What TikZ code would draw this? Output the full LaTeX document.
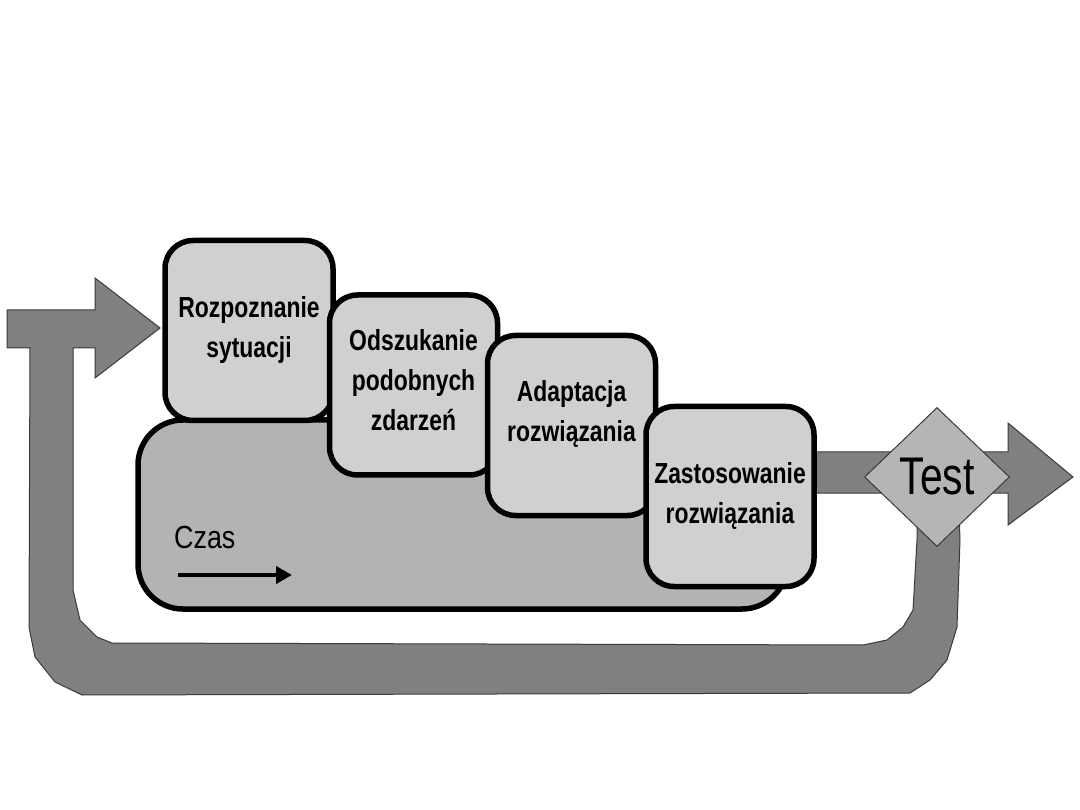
\documentclass[tikz,border=0pt]{standalone}
\usepackage{fontspec}
\usetikzlibrary{shapes.geometric,arrows.meta}
\newfontfamily\boxfont[FakeStretch=0.79]{Liberation Sans}
\newfontfamily\czasfont[FakeStretch=0.84]{Liberation Sans}
\newfontfamily\testfont[FakeStretch=0.77]{Liberation Sans}
\definecolor{arrowgray}{HTML}{808080}
\definecolor{arrowedge}{HTML}{3A3A3A}
\definecolor{bggray}{HTML}{B3B3B3}
\definecolor{boxgray}{HTML}{D0D0D0}
\definecolor{diagray}{HTML}{B5B5B5}
\tikzset{
  bigarrow/.style={fill=arrowgray, draw=arrowedge, line width=1pt, line join=miter},
  stepbox/.style={draw=black, fill=boxgray, line width=5.5pt, rounded corners=28pt,
    minimum width=168pt, minimum height=180pt, align=center, inner sep=0pt,
    font=\boxfont\bfseries\fontsize{29}{40}\selectfont},
  timebox/.style={draw=black, fill=bggray, line width=5.5pt, rounded corners=45pt,
    minimum width=649pt, minimum height=189pt, inner sep=0pt},
  testdia/.style={diamond, draw=arrowedge, fill=diagray, line width=1pt,
    minimum width=145pt, minimum height=139pt, inner sep=0pt,
    font=\testfont\fontsize{53}{60}\selectfont},
  timearrow/.style={line width=4pt, -{Triangle[length=16pt,width=17pt]}}
}
\begin{document}
\begin{tikzpicture}[x=1pt,y=-1pt]
\useasboundingbox (0,0) rectangle (1080,810);
% feedback loop arrow
\draw[bigarrow] (7,310) -- (95,310) -- (95,278) -- (160,328) -- (95,378) -- (95,348)
  -- (73,348) -- (73,590) -- (80,620) -- (97,637) -- (112,643) -- (863,645)
  -- (887,640) -- (903,627) -- (913,610) -- (917,540) -- (917,480) -- (958,480)
  -- (960,540) -- (957,627) -- (947,660) -- (930,680) -- (910,693) -- (82,695)
  -- (55,682) -- (35,657) -- (29,627) -- (30,348) -- (7,348) -- cycle;
% output arrow
\draw[bigarrow] (800,452) -- (1008,452) -- (1008,423) -- (1073,477) -- (1008,525)
  -- (1008,493) -- (800,493) -- cycle;
% time background
\node[timebox] (bg) at (462.5,514.5) {};
\node[anchor=base west, inner sep=0pt, font=\czasfont\fontsize{32}{38}\selectfont] (czas) at (174,548) {Czas};
\coordinate (t0) at (178,575);
\coordinate (t1) at (292,575);
\draw[timearrow] (t0) -- (t1);
% steps
\node[stepbox] (b1) at (249,330.5) {Rozpoznanie\\sytuacji};
\node[stepbox, text depth=10pt] (b2) at (413.5,385) {Odszukanie\\podobnych\\zdarzeń};
\node[stepbox, text depth=29pt] (b3) at (571.5,425.5) {Adaptacja\\rozwiązania};
\node[stepbox] (b4) at (730,496.5) {Zastosowanie\\rozwiązania};
% test
\node[testdia] (test) at (937,477) {Test};
\end{tikzpicture}
\end{document}
